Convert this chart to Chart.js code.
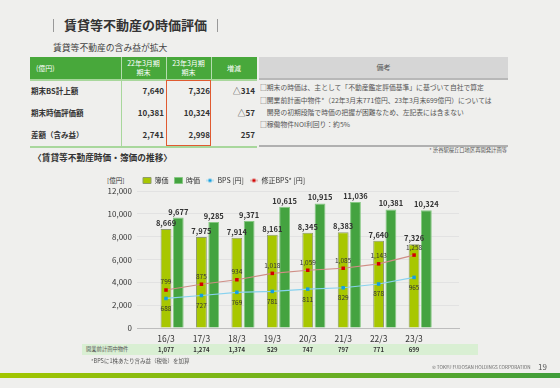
<!DOCTYPE html>
<html lang="ja">
<head>
<meta charset="utf-8">
<script src="https://cdn.jsdelivr.net/npm/chart.js@4.4.0/dist/chart.umd.min.js"></script>
<style>
  html, body { margin: 0; padding: 0; }
  body {
    width: 560px; height: 388px; position: relative; overflow: hidden;
    background: #efefed; color: #333;
    font-family: "Noto Sans CJK JP", "Noto Sans", sans-serif;
  }
  .a { position: absolute; white-space: nowrap; }
  .bar { position: absolute; width: 1px; height: 13px; top: 19px; background: #999; }
  .th { position: absolute; top: 57px; height: 22px; color: #fff; font-size: 7px; line-height: 9px;
        display: flex; align-items: center; justify-content: center; text-align: center; }
  .rl { position: absolute; left: 31px; font-size: 7.5px; font-weight: bold; line-height: 22px; }
  .rv { position: absolute; font-size: 8px; font-weight: bold; line-height: 22px; text-align: right; width: 44px; }
  .note { position: absolute; left: 260px; font-size: 6.8px; line-height: 10px; color: #555; }
  #chart { position: absolute; left: 96px; top: 171px; }
</style>
</head>
<body>
<!-- title -->
<div class="bar" style="left:53px"></div>
<div class="a" style="left:64px; top:16px; font-size:13px; font-weight:bold; line-height:18px; color:#333">賃貸等不動産の時価評価</div>
<div class="bar" style="left:217px"></div>
<div class="a" style="left:53px; top:42px; font-size:8.8px; line-height:12px; color:#444">賃貸等不動産の含み益が拡大</div>

<!-- table -->
<div class="a" style="left:30px; top:57px; width:227px; height:22px; background:#48a83b"></div>
<div class="th" style="left:30px; width:91px; justify-content:flex-start; padding-left:6px; box-sizing:border-box">(億円)</div>
<div class="th" style="left:121px; width:45px">22年3月期<br>期末</div>
<div class="th" style="left:166px; width:45px">23年3月期<br>期末</div>
<div class="th" style="left:211px; width:46px">増減</div>
<div class="a" style="left:121px; top:57px; width:1px; height:22px; background:rgba(255,255,255,.6)"></div>
<div class="a" style="left:166px; top:57px; width:1px; height:22px; background:rgba(255,255,255,.6)"></div>
<div class="a" style="left:211px; top:57px; width:1px; height:22px; background:rgba(255,255,255,.6)"></div>
<div class="a" style="left:30px; top:79px; width:227px; height:2px; background:#a8d79c"></div>
<div class="a" style="left:121px; top:81px; width:1px; height:65px; background:#a8d79c"></div>
<div class="a" style="left:30px; top:146px; width:227px; height:2px; background:#a8d79c"></div>

<div class="rl" style="top:80px">期末BS計上額</div>
<div class="rl" style="top:102px">期末時価評価額</div>
<div class="rl" style="top:124px">差額（含み益）</div>
<div class="rv" style="left:120px; top:80px">7,640</div>
<div class="rv" style="left:120px; top:102px">10,381</div>
<div class="rv" style="left:120px; top:124px">2,741</div>
<div class="rv" style="left:166px; top:80px">7,326</div>
<div class="rv" style="left:166px; top:102px">10,324</div>
<div class="rv" style="left:166px; top:124px">2,998</div>
<div class="rv" style="left:211px; top:80px; font-weight:normal">△<b>314</b></div>
<div class="rv" style="left:211px; top:102px; font-weight:normal">△<b>57</b></div>
<div class="rv" style="left:211px; top:124px">257</div>
<div class="a" style="left:166px; top:80px; width:45px; height:66px; box-sizing:border-box; border:1px solid #e05a30"></div>

<!-- notes -->
<div class="a" style="left:259px; top:57px; width:249px; height:21px; background:#d6d6d6; font-size:7px; line-height:21px; text-align:center; color:#555">備考</div>
<div class="a" style="left:259px; top:78px; width:249px; height:2px; background:#b8b8b8"></div>
<div class="note" style="top:82px">□期末の時価は、主として「不動産鑑定評価基準」に基づいて自社で算定</div>
<div class="note" style="top:95px">□開業前計画中物件*（22年3月末771億円、23年3月末699億円）については</div>
<div class="note" style="top:107px">　開発の初期段階で時価の把握が困難なため、左記表には含まない</div>
<div class="note" style="top:119px">□稼働物件NOI利回り：約5%</div>
<div class="a" style="left:259px; top:145px; width:249px; height:2px; background:#b0b0b0"></div>
<div class="a" style="right:53px; top:147px; font-size:5.3px; line-height:7px; color:#555">* 渋谷駅桜丘口地区再開発計画等</div>

<!-- chart section -->
<div class="a" style="left:33px; top:152px; font-size:8.7px; font-weight:bold; line-height:12px">〈賃貸等不動産時価・簿価の推移〉</div>
<div class="a" style="left:107px; top:176px; font-size:6.5px; line-height:8px">[億円]</div>
<div class="a" style="left:82px; top:344px; width:396px; height:11px; background:#d9efd3"></div>
<div class="a" style="left:86px; top:346px; font-size:5.3px; line-height:7px; color:#555">開業前計画中物件</div>
<canvas id="chart" width="368" height="187"></canvas>
<div class="a" style="left:91px; top:357px; font-size:5.5px; line-height:8px; color:#555">*BPSに1株あたり含み益（税後）を加算</div>

<!-- footer -->
<div class="a" style="left:432px; top:364px; font-size:4.6px; line-height:6px; color:#666">© TOKYU FUDOSAN HOLDINGS CORPORATION</div>
<div class="a" style="left:538px; top:361px; font-size:8px; line-height:11px; color:#555">19</div>
<div class="a" style="left:0; top:373px; width:560px; height:5px; background:linear-gradient(to right, #a3c600, #3f9d3a)"></div>

<script>
const categories = ['16/3', '17/3', '18/3', '19/3', '20/3', '21/3', '22/3', '23/3'];
const bookValue = [8669, 7975, 7914, 8161, 8345, 8383, 7640, 7326];
const marketValue = [9677, 9285, 9371, 10615, 10915, 11036, 10381, 10324];
const bps = [688, 727, 769, 781, 811, 829, 878, 965];
const adjustedBps = [799, 875, 934, 1018, 1059, 1085, 1143, 1258];
const pipelineValues = [1077, 1274, 1374, 529, 747, 797, 771, 699];

const FONT = '"Noto Sans CJK JP", "Noto Sans", sans-serif';
Chart.defaults.font.family = FONT;
Chart.defaults.color = '#333';

const toPoints = arr => arr.map((v, i) => ({ x: i, y: v }));
const fmt = v => v.toLocaleString('en-US');

// small "line + square" marker used in the legend for the line series
function lineMarker(lineColor, dotColor) {
  const c = document.createElement('canvas');
  c.width = 8; c.height = 6;
  const g = c.getContext('2d');
  g.strokeStyle = lineColor;
  g.lineWidth = 1;
  g.beginPath(); g.moveTo(0, 3); g.lineTo(8, 3); g.stroke();
  g.fillStyle = dotColor;
  g.fillRect(2.5, 1.5, 3, 3);
  return c;
}

const valueLabels = {
  id: 'valueLabels',
  afterDatasetsDraw(chart) {
    const { ctx, scales: { x } } = chart;
    ctx.save();
    ctx.textAlign = 'center';
    ctx.fillStyle = '#333';
    chart.data.datasets.forEach((ds, di) => {
      if (!ds.label) return;
      const meta = chart.getDatasetMeta(di);
      meta.data.forEach((el, i) => {
        const text = fmt(ds.data[i].y);
        if (ds.type === 'bar') {
          ctx.font = 'bold 7.5px ' + FONT;
          ctx.textBaseline = 'alphabetic';
          ctx.fillText(text, el.x, el.y - 3);
        } else if (ds.label === 'BPS [円]') {
          ctx.font = '6.5px ' + FONT;
          ctx.textBaseline = 'middle';
          ctx.fillText(text, el.x, el.y + 10);
        } else {
          ctx.font = '6.5px ' + FONT;
          ctx.textBaseline = 'middle';
          ctx.fillText(text, el.x, el.y - 8);
        }
      });
    });
    // 開業前計画中物件 row under the axis
    ctx.font = 'bold 6px ' + FONT;
    ctx.textBaseline = 'middle';
    pipelineValues.forEach((v, i) => ctx.fillText(fmt(v), x.getPixelForValue(i), 178.5));
    ctx.restore();
  }
};

new Chart(document.getElementById('chart'), {
  data: {
    datasets: [
      // empty first slot so the 簿価 bar sits on the category position
      { type: 'bar', label: '', data: [] },
      {
        type: 'bar', label: '簿価', data: toPoints(bookValue),
        backgroundColor: '#a8c700', borderColor: '#8e9c6c', borderWidth: 1
      },
      {
        type: 'bar', label: '時価', data: toPoints(marketValue),
        backgroundColor: '#44a340', borderColor: '#86c882', borderWidth: 1
      },
      {
        type: 'line', label: 'BPS [円]', data: toPoints(bps), yAxisID: 'y1', order: -1,
        borderColor: '#88d2ef', borderWidth: 1.2, pointStyle: 'rect', pointRadius: 2.5,
        pointBackgroundColor: '#159fe0', pointBorderColor: '#159fe0', pointBorderWidth: 0
      },
      {
        type: 'line', label: '修正BPS* [円]', data: toPoints(adjustedBps), yAxisID: 'y1', order: -2,
        borderColor: '#cf8d85', borderWidth: 1.2, pointStyle: 'rect', pointRadius: 2.5,
        pointBackgroundColor: '#d40000', pointBorderColor: '#d40000', pointBorderWidth: 0
      }
    ]
  },
  options: {
    responsive: false,
    animation: false,
    layout: { padding: { top: 0, right: 5, bottom: 0, left: 0 } },
    datasets: { bar: { categoryPercentage: 1.04, barPercentage: 0.88 } },
    plugins: {
      tooltip: { enabled: false },
      legend: {
        position: 'top', align: 'start', fullSize: false, maxHeight: 20,
        labels: {
          usePointStyle: true, pointStyleWidth: 8, boxHeight: 6, padding: 6,
          font: { size: 7 }, color: '#333',
          sort: (a, b) => a.datasetIndex - b.datasetIndex,
          filter: item => item.text !== '',
          generateLabels(chart) {
            const items = Chart.defaults.plugins.legend.labels.generateLabels(chart);
            items.forEach(it => {
              const ds = chart.data.datasets[it.datasetIndex];
              it.pointStyle = ds.type === 'line' ? lineMarker(ds.borderColor, ds.pointBackgroundColor) : 'rect';
            });
            return items;
          }
        }
      }
    },
    scales: {
      x: {
        type: 'linear', min: -0.25, max: 7.7,
        afterBuildTicks: s => { s.ticks = categories.map((c, i) => ({ value: i })); },
        afterFit: s => { s.height = 30; },
        ticks: { autoSkip: false, maxRotation: 0, padding: 6, font: { size: 8.5 }, color: '#333',
                 callback: v => categories[v] },
        grid: { display: false, drawTicks: false },
        border: { color: '#bdbdbd', width: 1 }
      },
      y: {
        min: 0, max: 12000,
        afterFit: s => { s.width = 41; },
        ticks: { stepSize: 2000, padding: 5, font: { size: 8 }, color: '#333', callback: v => fmt(v) },
        grid: { color: '#e2e2e2', drawTicks: false },
        border: { display: false }
      },
      y1: { display: false, min: 300, max: 2100 }
    }
  },
  plugins: [valueLabels]
});
</script>
</body>
</html>
